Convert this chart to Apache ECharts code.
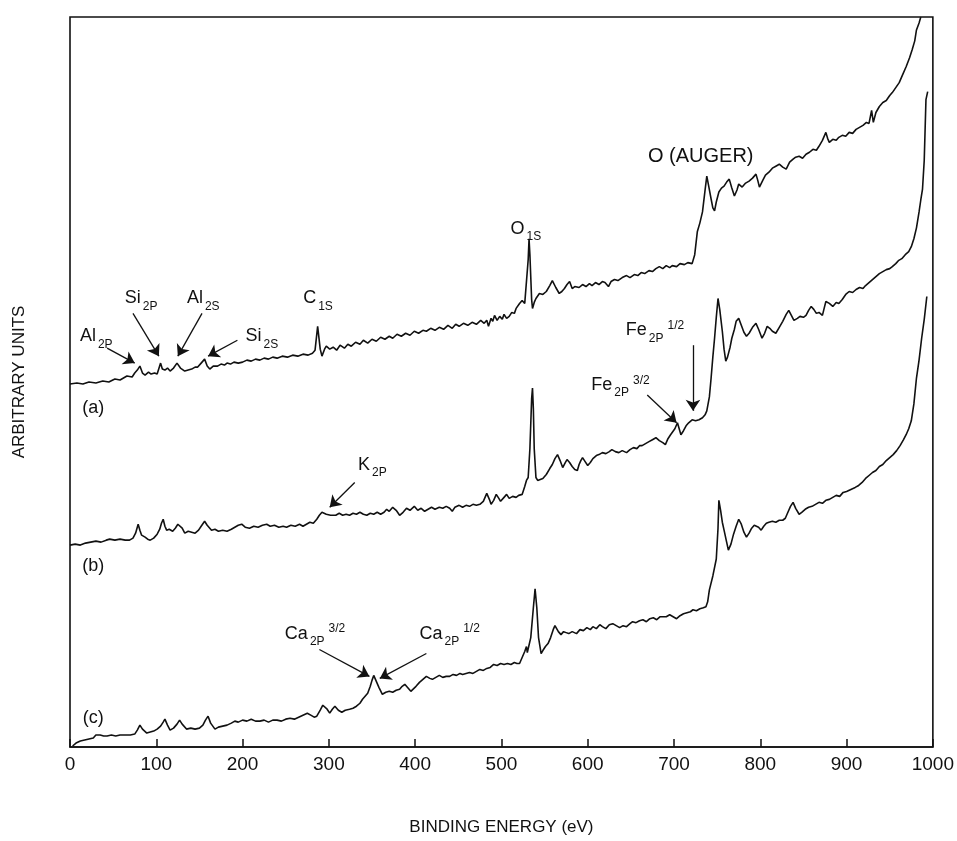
<!DOCTYPE html>
<html>
<head>
<meta charset="utf-8">
<script src="https://cdn.jsdelivr.net/npm/echarts@6/dist/echarts.min.js"></script>
<style>
html,body{margin:0;padding:0;background:#fff;}
#chart{width:957px;height:841px;}
</style>
</head>
<body>
<div id="chart"></div>
<script>
// ---- data: [binding energy (eV), intensity (arbitrary units, offset traces)] ----
const curveA = [[0,365],[8,366],[15,365],[22,367],[30,366],[38,368],[45,367],[52,370],[58,369],[66,373],[72,372],[75,376],[78,379],[81,383],[84,376],[87,374],[91,377],[94,375],[98,376],[101,375],[103,374],[105,386],[107,380],[110,379],[113,381],[116,378],[120,381],[124,386],[128,381],[133,378],[137,379],[141,380],[145,382],[148,382],[152,386],[156,390],[159,383],[162,380],[166,383],[171,383],[175,385],[179,384],[182,386],[186,385],[190,387],[195,386],[200,387],[205,389],[210,388],[215,390],[220,389],[225,391],[230,390],[235,392],[240,391],[246,393],[252,392],[258,394],[264,393],[270,395],[276,394],[281,396],[284,399],[287,423],[290,400],[292,393],[295,400],[297,403],[301,400],[305,402],[309,399],[313,404],[318,401],[322,405],[326,403],[331,407],[336,405],[340,409],[345,406],[350,410],[355,408],[360,412],[365,410],[370,413],[374,411],[379,415],[384,413],[389,416],[394,414],[399,418],[404,416],[409,419],[413,418],[418,421],[423,419],[428,422],[433,420],[438,424],[443,421],[447,425],[451,423],[456,426],[461,424],[466,427],[471,425],[476,429],[480,426],[483,429],[485,423],[488,431],[490,428],[492,434],[495,429],[498,433],[501,430],[503,435],[506,431],[509,433],[512,437],[515,436],[517,441],[519,440],[521,446],[524,449],[527,446],[529,444],[531,490],[532,511],[533,495],[535,450],[536,441],[538,447],[540,451],[544,456],[548,455],[552,458],[556,464],[559,469],[563,462],[567,456],[570,458],[573,461],[576,465],[579,468],[582,461],[585,463],[590,462],[594,465],[598,463],[602,466],[605,464],[609,467],[613,465],[617,468],[620,467],[622,469],[624,463],[627,468],[631,470],[635,469],[640,472],[645,474],[649,472],[654,475],[658,474],[662,477],[666,476],[671,479],[675,478],[679,481],[683,483],[687,481],[691,484],[695,482],[698,484],[703,483],[707,486],[712,485],[716,487],[721,486],[724,495],[727,518],[730,527],[733,538],[736,560],[738,574],[740,565],[743,551],[745,542],[747,539],[749,548],[752,558],[755,562],[758,564],[761,568],[764,571],[767,562],[770,554],[773,560],[775,566],[779,563],[783,567],[787,569],[791,572],[795,576],[797,570],[799,563],[803,570],[806,575],[810,578],[814,582],[818,584],[822,586],[826,583],[830,581],[834,588],[838,591],[841,593],[845,594],[849,592],[853,596],[857,598],[861,601],[865,600],[868,604],[872,610],[876,618],[878,612],[880,608],[884,611],[888,610],[891,613],[895,615],[899,614],[903,618],[907,617],[911,621],[915,623],[919,625],[923,628],[926,627],[929,640],[931,628],[934,638],[938,644],[942,648],[946,650],[950,655],[953,658],[957,663],[961,668],[965,676],[969,684],[973,693],[976,701],[979,710],[981,721],[984,728],[986,734]];

const curveB = [[0,203],[6,204],[12,203],[18,205],[24,206],[30,207],[36,206],[42,208],[46,209],[52,208],[58,209],[64,208],[69,208],[73,210],[76,215],[79,224],[81,218],[83,213],[87,211],[90,209],[93,208],[97,210],[101,214],[104,219],[106,225],[108,229],[110,222],[112,218],[115,219],[119,217],[122,220],[125,224],[127,226],[130,220],[133,215],[137,217],[141,216],[145,215],[149,218],[152,222],[156,227],[159,223],[164,218],[168,219],[172,217],[177,218],[182,217],[187,219],[191,221],[195,223],[199,224],[203,221],[208,220],[213,222],[218,221],[223,223],[228,224],[232,222],[237,223],[242,221],[247,222],[251,221],[256,223],[261,222],[266,224],[270,222],[274,224],[278,226],[282,225],[286,229],[289,233],[292,236],[294,238],[297,234],[299,235],[302,233],[304,232],[308,233],[312,235],[316,233],[320,234],[324,233],[328,235],[332,234],[336,236],[340,234],[344,233],[348,235],[352,234],[356,236],[360,234],[364,236],[367,239],[370,237],[374,241],[378,238],[382,233],[386,236],[390,240],[394,238],[399,242],[403,238],[407,240],[411,237],[415,239],[419,241],[423,239],[428,241],[432,240],[436,242],[440,240],[443,237],[446,241],[451,243],[455,241],[459,243],[463,242],[467,244],[471,243],[475,244],[479,247],[483,255],[486,249],[488,244],[491,248],[494,254],[497,250],[499,247],[503,251],[506,254],[509,250],[513,252],[517,251],[520,253],[524,254],[527,262],[529,268],[531,271],[533,300],[535,350],[536,361],[537,340],[538,300],[540,271],[542,268],[544,266],[548,270],[552,274],[556,280],[559,284],[562,290],[565,294],[568,288],[571,281],[574,286],[576,289],[579,286],[582,282],[585,279],[588,278],[590,284],[592,288],[594,291],[597,287],[600,283],[603,286],[606,290],[610,293],[613,294],[617,296],[621,295],[625,297],[628,299],[632,297],[636,296],[640,298],[645,296],[649,299],[653,301],[657,300],[660,303],[663,303],[667,305],[671,307],[675,309],[679,311],[683,308],[687,306],[690,304],[693,310],[696,314],[698,316],[701,320],[704,326],[706,320],[708,314],[711,318],[714,323],[717,326],[721,329],[725,328],[729,329],[733,331],[736,334],[738,338],[741,352],[743,371],[745,392],[747,411],[749,432],[751,451],[753,440],[756,418],[758,400],[760,388],[762,392],[765,402],[767,411],[770,420],[772,428],[775,431],[778,424],[781,417],[784,413],[787,416],[791,422],[795,426],[798,420],[802,411],[805,416],[808,423],[811,421],[814,418],[818,416],[822,422],[826,428],[830,435],[833,439],[836,434],[839,429],[843,431],[846,433],[850,432],[853,434],[856,439],[859,443],[862,440],[865,436],[868,437],[872,434],[874,441],[876,448],[880,446],[884,443],[888,447],[891,446],[895,450],[899,455],[903,458],[907,457],[911,460],[915,462],[919,461],[922,464],[926,467],[930,470],[934,473],[938,476],[942,478],[946,480],[950,481],[953,483],[957,486],[960,489],[964,491],[968,495],[972,498],[975,503],[978,511],[981,522],[984,538],[986,550],[988,561],[990,590],[992,651],[994,659]];

const curveC = [[3,1],[7,4],[12,6],[17,7],[22,8],[27,9],[30,12],[32,14],[35,12],[39,11],[43,11],[48,12],[53,11],[58,12],[62,12],[66,12],[70,12],[75,13],[78,17],[81,22],[84,18],[89,14],[93,15],[97,16],[101,18],[105,21],[108,25],[110,28],[113,22],[116,17],[120,19],[124,23],[127,27],[130,23],[135,18],[140,19],[145,18],[150,19],[154,22],[157,27],[160,31],[163,24],[168,18],[172,20],[177,21],[182,22],[187,24],[191,26],[195,25],[200,27],[205,26],[210,28],[215,26],[220,26],[225,27],[230,25],[235,27],[240,27],[245,26],[250,28],[255,29],[260,28],[265,30],[270,32],[275,34],[279,32],[283,30],[286,31],[290,37],[293,42],[295,44],[298,38],[301,34],[304,38],[307,41],[311,37],[315,35],[319,37],[324,38],[328,39],[332,41],[336,44],[339,48],[342,51],[345,54],[348,61],[350,67],[352,72],[354,68],[355,66],[358,60],[362,53],[366,55],[370,56],[374,55],[378,57],[382,58],[385,61],[388,63],[391,60],[395,56],[397,56],[401,61],[405,65],[409,68],[413,71],[417,69],[420,68],[424,70],[428,72],[432,70],[436,71],[440,71],[444,73],[448,72],[452,74],[455,73],[459,74],[463,75],[467,74],[471,76],[475,78],[479,77],[483,79],[487,80],[491,83],[495,82],[499,84],[503,83],[507,84],[511,83],[515,85],[518,84],[521,84],[524,90],[527,96],[529,101],[530,95],[532,93],[534,110],[537,140],[539,159],[541,140],[543,110],[546,94],[548,97],[551,101],[554,104],[557,110],[560,118],[562,122],[564,123],[566,116],[569,113],[572,116],[575,115],[578,114],[582,116],[587,114],[591,118],[595,117],[599,120],[603,118],[606,121],[610,119],[614,123],[617,121],[621,119],[625,123],[629,124],[633,122],[637,120],[641,122],[645,121],[649,124],[652,126],[656,125],[660,127],[664,128],[668,126],[672,129],[676,130],[680,128],[684,131],[688,131],[691,131],[695,133],[699,131],[703,129],[707,132],[711,134],[715,135],[719,136],[722,138],[726,137],[730,139],[734,140],[737,141],[739,146],[741,158],[745,172],[749,189],[751,220],[752,248],[754,238],[756,226],[758,218],[761,206],[763,198],[766,204],[769,214],[772,222],[775,229],[778,224],[781,216],[784,211],[787,215],[790,220],[793,223],[795,224],[798,221],[801,218],[804,222],[807,225],[810,226],[814,227],[818,226],[822,228],[826,228],[829,230],[832,236],[835,242],[838,246],[841,240],[845,234],[848,236],[852,239],[856,241],[860,242],[864,244],[868,246],[872,245],[876,248],[880,249],[884,251],[888,253],[892,252],[896,256],[900,257],[905,259],[910,261],[914,263],[918,266],[922,270],[926,273],[930,276],[934,278],[938,282],[942,284],[946,288],[950,291],[954,294],[958,298],[962,303],[966,309],[969,314],[972,320],[975,328],[978,345],[981,371],[984,389],[987,411],[990,430],[993,453]];

const xTicks = [0,100,200,300,400,500,600,700,800,900,1000];

// annotation labels: [energy, intensity, rich text]
const peakLabels = [
  [27, 341, '{m|(a)}'],
  [27, 182, '{m|(b)}'],
  [27, 29,  '{m|(c)}'],
  [31, 413, '{m|Al}{s|2P}'],
  [83, 451, '{m|Si}{s|2P}'],
  [155, 451, '{m|Al}{s|2S}'],
  [223, 413, '{m|Si}{s|2S}'],
  [288, 451, '{m|C}{s|1S}'],
  [529, 521, '{m|O}{s|1S}'],
  [731, 594, '{big|O (AUGER)}'],
  [678, 419, '{m|Fe}{s|2P}{p|1/2}'],
  [638, 364, '{m|Fe}{s|2P}{p|3/2}'],
  [351, 284, '{m|K}{s|2P}'],
  [284, 114, '{m|Ca}{s|2P}{p|3/2}'],
  [440, 114, '{m|Ca}{s|2P}{p|1/2}']
];

// arrows: [fromE, fromI, toE, toI]
const arrows = [
  [43, 401, 75, 386],
  [73, 436, 103, 393],
  [153, 436, 125, 393],
  [194, 409, 160, 393],
  [722, 404, 722, 338],
  [669, 354, 703, 326],
  [330, 266, 301, 241],
  [289, 98, 347, 71],
  [413, 94, 359, 69]
];

const FONT = '"Liberation Sans", Arial, Helvetica, sans-serif';
const INK = '#111111';

const chart = echarts.init(document.getElementById('chart'), null, {renderer: 'canvas'});

function lineSeries(data) {
  return {
    type: 'line',
    data: data,
    showSymbol: false,
    symbol: 'none',
    smooth: false,
    silent: true,
    lineStyle: {color: INK, width: 1.6},
    z: 3
  };
}

const option = {
  animation: false,
  backgroundColor: '#fff',
  grid: {left: 70, right: 23, top: 17, bottom: 90, show: true, borderColor: INK, borderWidth: 1.6, backgroundColor: 'transparent'},
  xAxis: {
    type: 'value', min: 0, max: 1000, interval: 100,
    name: 'BINDING ENERGY (eV)', nameLocation: 'middle', nameGap: 72,
    nameTextStyle: {fontFamily: FONT, fontSize: 17, color: INK},
    axisLine: {show: true, lineStyle: {color: INK, width: 1.6}},
    axisTick: {show: true, inside: true, length: 8, lineStyle: {color: INK, width: 1.5}},
    axisLabel: {fontFamily: FONT, fontSize: 19, color: INK, margin: 8,
      formatter: v => (xTicks.indexOf(v) >= 0 ? String(v) : '')},
    splitLine: {show: false}
  },
  yAxis: {
    type: 'value', min: 0, max: 734,
    name: 'ARBITRARY UNITS', nameLocation: 'middle', nameGap: 42, nameRotate: 90,
    nameTextStyle: {fontFamily: FONT, fontSize: 17, color: INK},
    axisLine: {show: false}, axisTick: {show: false}, axisLabel: {show: false},
    splitLine: {show: false}
  },
  series: [
    lineSeries(curveA),
    lineSeries(curveB),
    lineSeries(curveC),
    {
      type: 'scatter',
      silent: true,
      symbolSize: 1,
      itemStyle: {opacity: 0},
      data: peakLabels.map(p => ({value: [p[0], p[1]], txt: p[2]})),
      label: {
        show: true, position: 'inside', color: INK, opacity: 1,
        textBorderWidth: 0,
        formatter: params => params.data.txt,
        rich: {
          m: {fontFamily: FONT, fontSize: 18, color: INK, lineHeight: 28, verticalAlign: 'middle'},
          s: {fontFamily: FONT, fontSize: 12, color: INK, lineHeight: 14, verticalAlign: 'bottom', padding: [0, 1, 0, 2]},
          p: {fontFamily: FONT, fontSize: 12, color: INK, lineHeight: 12, verticalAlign: 'middle', padding: [0, 0, 9, 3]},
          big: {fontFamily: FONT, fontSize: 20, color: INK, lineHeight: 26}
        }
      },
      markLine: {
        silent: true,
        symbol: ['none', 'arrow'],
        symbolSize: 11,
        label: {show: false},
        lineStyle: {color: INK, width: 1.3, type: 'solid', opacity: 1},
        itemStyle: {color: INK},
        emphasis: {disabled: true},
        data: arrows.map(a => [{coord: [a[0], a[1]]}, {coord: [a[2], a[3]]}])
      },
      z: 5
    }
  ]
};

chart.setOption(option);
</script>
</body>
</html>
